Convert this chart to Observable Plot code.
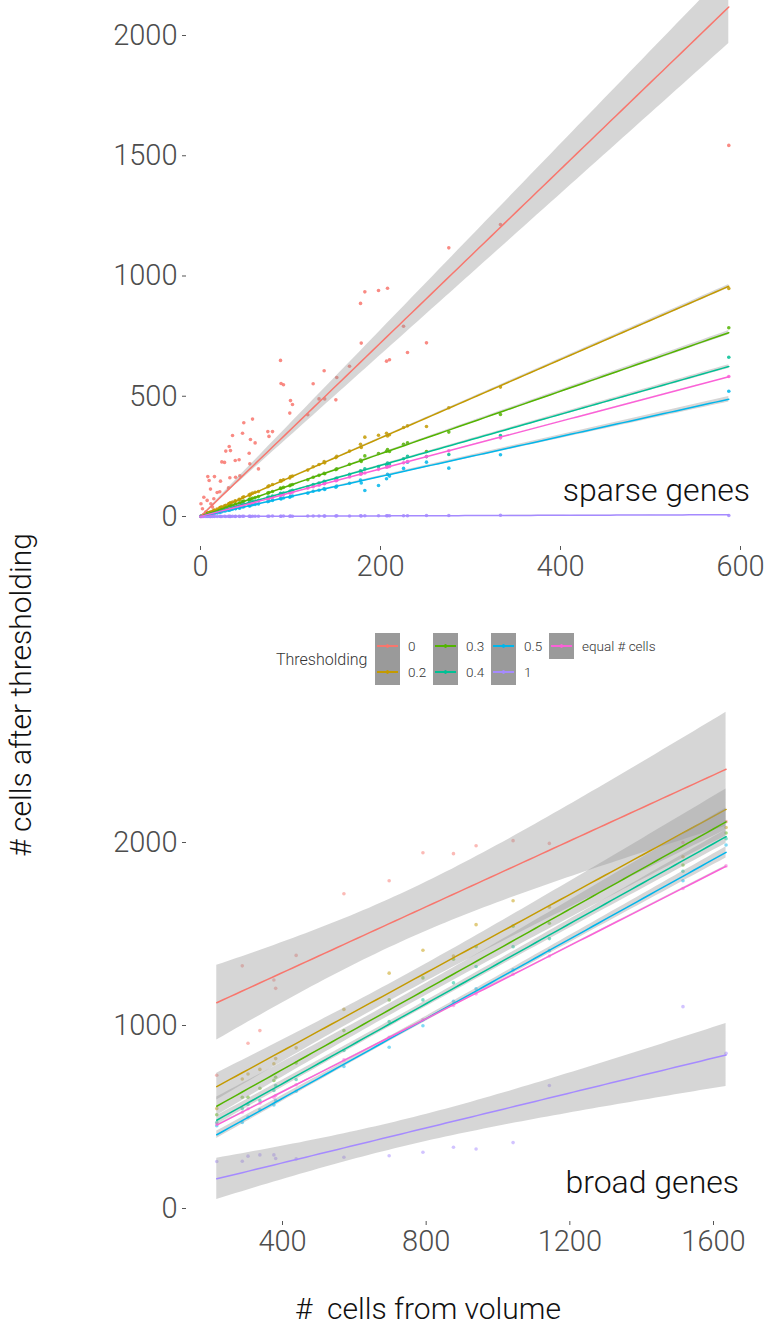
<!DOCTYPE html>
<html><head><meta charset="utf-8">
<script src="https://cdn.jsdelivr.net/npm/d3@7"></script>
<script src="https://cdn.jsdelivr.net/npm/@observablehq/plot@0.6"></script>
<style>
html,body{margin:0;padding:0;background:#fff;}
#page{position:relative;width:770px;height:1329px;overflow:hidden;font-family:Roboto,"Liberation Sans",sans-serif;font-weight:300;color:#111;}
.abs{position:absolute;white-space:pre;}
svg{overflow:visible;}
</style></head><body><div id="page"></div>
<script>
// ---- categories & colours ----
const levels = ["0", "0.2", "0.3", "0.4", "0.5", "1", "equal # cells"];
const colors = ["#F8766D", "#C49A00", "#53B400", "#00C094", "#00B6EB", "#A58AFF", "#FB61D7"];

// ---- sparse genes panel ----
const sparseX = [0.5, 2.2, 3.7, 5.9, 7.4, 8.1, 9.6, 11.1, 11.5, 13.3, 14.8, 15.5, 18.5, 21.4, 22.2, 23.7, 26.7, 28.1, 31.1, 31.9, 32.6, 33.3, 35.6, 38.6, 39.0, 42.9, 43.7, 46.7, 48.1, 54.1, 54.8, 55.5, 57.8, 60.7, 64.4, 74.8, 76.1, 80, 88.9, 89.5, 92.2, 99.2, 100, 102.2, 119.2, 125.2, 131.7, 137.4, 138, 150.4, 151.4, 165.6, 177.8, 178.6, 182.6, 197.8, 206.7, 207.8, 210, 225.6, 230, 251.1, 275.9, 333.3, 587];
const sparse0 = [53, 32, 80, 18, 67, 166, 150, 114, 53, 39, 74, 166, 100, 103, 147, 227, 225, 272, 119, 291, 161, 274, 337, 233, 163, 236, 169, 346, 390, 263, 219, 320, 405, 306, 198, 353, 333, 353, 649, 553, 548, 430, 482, 466, 423, 552, 489, 606, 489, 485, 578, 625, 886, 721, 934, 940, 646, 949, 652, 791, 682, 722, 1117, 1214, 1543];
const sparse02 = [1, 4, 7, 9, 13, 15, 16, 19, 17, 22, 25, 27, 31, 36, 38, 40, 45, 47, 52, 54, 55, 57, 60, 65, 63, 72, 70, 79, 82, 90, 88, 93, 97, 101, 104, 124, 128, 133, 150, 147, 153, 160, 166, 168, 193, 207, 216, 228, 223, 245, 250, 272, 300, 287, 330, 338, 346, 335, 340, 370, 377, 374, 452, 538, 948];
const sparse03 = [1, 3, 5, 7, 10, 11, 13, 15, 14, 17, 19, 21, 24, 28, 30, 31, 35, 37, 40, 42, 43, 44, 47, 51, 50, 56, 55, 62, 64, 71, 70, 73, 76, 79, 83, 97, 100, 104, 118, 116, 121, 128, 131, 133, 153, 163, 171, 180, 178, 195, 198, 217, 235, 229, 252, 262, 271, 278, 270, 300, 306, 270, 351, 424, 785];
const sparse04 = [1, 2, 4, 6, 8, 9, 10, 12, 11, 14, 16, 17, 20, 23, 24, 25, 28, 30, 33, 34, 35, 36, 38, 41, 40, 46, 45, 50, 52, 58, 57, 59, 62, 64, 67, 80, 81, 85, 96, 94, 98, 104, 106, 109, 124, 133, 139, 146, 144, 157, 160, 175, 190, 183, 198, 208, 215, 222, 218, 240, 250, 249, 258, 337, 662];
const sparse05 = [0, 2, 3, 5, 6, 7, 8, 9, 9, 11, 12, 13, 15, 18, 19, 20, 23, 24, 26, 27, 28, 28, 30, 33, 32, 36, 35, 40, 41, 45, 44, 47, 49, 50, 52, 62, 64, 67, 75, 73, 77, 80, 84, 85, 97, 105, 109, 116, 112, 122, 127, 138, 152, 139, 108, 129, 157, 175, 168, 200, 226, 226, 201, 257, 521];
const sparse1 = [0, 0, 0, 0, 0, 1, 0, 0, 0, 0, 1, 0, 0, 1, 0, 0, 1, 0, 1, 0, 1, 0, 1, 0, 1, 1, 0, 1, 1, 1, 1, 0, 1, 1, 1, 1, 1, 2, 1, 1, 2, 1, 2, 1, 2, 2, 2, 2, 2, 2, 3, 2, 3, 2, 3, 3, 3, 3, 3, 3, 3, 4, 4, 5, 4];
const sparseEq = [0, 2, 4, 6, 7, 8, 10, 11, 11, 13, 15, 15, 18, 21, 22, 23, 26, 28, 31, 32, 32, 33, 35, 38, 39, 43, 43, 46, 48, 54, 54, 55, 57, 60, 64, 74, 75, 79, 88, 89, 91, 98, 99, 101, 118, 124, 130, 136, 137, 149, 150, 164, 176, 177, 181, 196, 205, 206, 208, 223, 228, 249, 273, 327, 582];

// ---- broad genes panel ----
const broadX = [217, 288, 304, 337, 376, 381, 438, 571, 697, 791, 876, 939, 1042, 1143, 1515, 1635];
const broad0 = [728, 1326, 903, 972, 1249, 1203, 1383, 1720, 1791, 1944, 1939, 1982, 2010, 1995, 2000, 2114];
const broad02 = [546, 708, 735, 760, 791, 819, 878, 1088, 1286, 1411, 1380, 1551, 1682, 1646, 1922, 2082];
const broad03 = [512, 608, 608, 657, 700, 717, 795, 972, 1140, 1260, 1362, 1431, 1543, 1559, 1877, 2052];
const broad04 = [470, 546, 568, 590, 645, 672, 705, 863, 1021, 1140, 1233, 1322, 1431, 1475, 1843, 2021];
const broad05 = [452, 470, 500, 540, 566, 590, 641, 776, 881, 999, 1132, 1200, 1304, 1409, 1791, 1986];
const broad1 = [257, 258, 286, 293, 293, 273, 271, 280, 288, 307, 335, 325, 360, 672, 1103, 848];
const broadEq = [462, 526, 545, 575, 607, 617, 676, 812, 936, 1031, 1109, 1173, 1280, 1380, 1749, 1872];

// ---- axis ticks & texts ----
const sparseXTicks = [0, 200, 400, 600];
const sparseYTicks = [0, 500, 1000, 1500, 2000];
const broadXTicks = [400, 800, 1200, 1600];
const broadYTicks = [0, 1000, 2000];
const legendTitle = "Thresholding";
const xTitle = "#  cells from volume";
const yTitle = "# cells after thresholding";
const sparseLabel = "sparse genes";
const broadLabel = "broad genes";

// ---- linear model smooth (like geom_smooth(method = "lm")) ----
function t975(df) {
  const z = 1.959964, z3 = z ** 3, z5 = z ** 5, z7 = z ** 7;
  return z + (z3 + z) / (4 * df) + (5 * z5 + 16 * z3 + 3 * z) / (96 * df * df) +
    (3 * z7 + 19 * z5 + 17 * z3 - 15 * z) / (384 * df ** 3);
}
// origin = true fits y ~ 0 + x, otherwise y ~ x
function smooth(xs, ys, origin, steps = 80) {
  const n = xs.length;
  let a, b, s, t, se;
  if (origin) {
    let sxx = 0, sxy = 0;
    for (let i = 0; i < n; i++) { sxx += xs[i] ** 2; sxy += xs[i] * ys[i]; }
    b = sxy / sxx; a = 0;
    let sse = 0;
    for (let i = 0; i < n; i++) sse += (ys[i] - b * xs[i]) ** 2;
    s = Math.sqrt(sse / (n - 1)); t = t975(n - 1);
    se = x => s * Math.abs(x) / Math.sqrt(sxx);
  } else {
    const xbar = d3.mean(xs), ybar = d3.mean(ys);
    let sxx = 0, sxy = 0;
    for (let i = 0; i < n; i++) { sxx += (xs[i] - xbar) ** 2; sxy += (xs[i] - xbar) * (ys[i] - ybar); }
    b = sxy / sxx; a = ybar - b * xbar;
    let sse = 0;
    for (let i = 0; i < n; i++) sse += (ys[i] - a - b * xs[i]) ** 2;
    s = Math.sqrt(sse / (n - 2)); t = t975(n - 2);
    se = x => s * Math.sqrt(1 / n + (x - xbar) ** 2 / sxx);
  }
  const [x0, x1] = d3.extent(xs);
  return d3.range(steps + 1).map(k => {
    const x = x0 + (x1 - x0) * k / steps, f = a + b * x;
    return {x, fit: f, lo: f - t * se(x), hi: f + t * se(x)};
  });
}

const fontStack = 'Roboto, "Liberation Sans", sans-serif';

function panel({xs, series, origin, xDomain, xRange, xTicks, yTicks, yRange, height, marginBottom, dotOpacity}) {
  const pts = series.flatMap((ys, i) => ys.map((y, j) => ({x: xs[j], y, level: levels[i]})));
  const marks = [Plot.dot(pts, {x: "x", y: "y", fill: "level", r: 1.8, fillOpacity: dotOpacity})];
  series.forEach((ys, i) => {
    const sm = smooth(xs, ys, origin);
    marks.push(
      Plot.areaY(sm, {x: "x", y1: "lo", y2: "hi", fill: "#999999", fillOpacity: 0.4}),
      Plot.line(sm, {x: "x", y: "fit", stroke: colors[i], strokeWidth: 1.5})
    );
  });
  marks.push(
    Plot.axisY({ticks: yTicks, tickSize: 4, tickPadding: 5, tickFormat: d3.format("d"), label: null, stroke: "#555"}),
    Plot.axisX({ticks: xTicks, tickSize: 4, tickPadding: 5, tickFormat: d3.format("d"), label: null, stroke: "#555"})
  );
  return Plot.plot({
    width: 770, height, marginLeft: 186, marginRight: 10, marginTop: 0, marginBottom,
    x: {domain: xDomain, range: xRange},
    y: {domain: [0, 2000], range: yRange},
    color: {domain: levels, range: colors},
    marks,
    style: {fontFamily: fontStack, fontSize: "29px", fontWeight: 300, color: "#4d4d4d", background: "transparent", overflow: "visible"}
  });
}

const page = document.getElementById("page");
function place(el, y) { el.style.position = "absolute"; el.style.left = "0px"; el.style.top = y + "px"; page.appendChild(el); }

const sparsePlot = panel({
  xs: sparseX, series: [sparse0, sparse02, sparse03, sparse04, sparse05, sparse1, sparseEq], origin: true,
  xDomain: [0, 600], xRange: [200, 740], xTicks: sparseXTicks, yTicks: sparseYTicks,
  yRange: [516, 35], height: 600, marginBottom: 54, dotOpacity: 0.85
});
place(sparsePlot, 0);

const broadTop = 695;
const broadPlot = panel({
  xs: broadX, series: [broad0, broad02, broad03, broad04, broad05, broad1, broadEq], origin: false,
  xDomain: [400, 1600], xRange: [282, 713], xTicks: broadXTicks, yTicks: broadYTicks,
  yRange: [1208 - broadTop, 842 - broadTop], height: 1329 - broadTop, marginBottom: 1329 - 1221, dotOpacity: 0.5
});
place(broadPlot, broadTop);

function text(str, style) {
  const d = document.createElement("div");
  d.className = "abs";
  d.textContent = str;
  Object.assign(d.style, style);
  page.appendChild(d);
  return d;
}
text(sparseLabel, {right: "20px", top: "471px", fontSize: "32px", lineHeight: "38px", color: "#111"});
text(broadLabel, {right: "31px", top: "1163px", fontSize: "32px", lineHeight: "38px", color: "#111"});
text(xTitle, {left: "0px", width: "856px", textAlign: "center", top: "1291px", fontSize: "30px", lineHeight: "36px", color: "#111"});
text(yTitle, {left: "21px", top: "695px", fontSize: "30px", lineHeight: "36px", color: "#111", transform: "translate(-50%,-50%) rotate(-90deg)"});

// ---- legend ----
text(legendTitle, {left: "276px", top: "650px", fontSize: "16px", lineHeight: "20px", color: "#333"});
const colX = [375, 433, 491, 549];
levels.forEach((lv, i) => {
  const col = Math.floor(i / 2), row = i % 2;
  const kx = colX[col], ky = 633 + row * 26;
  const box = document.createElement("div");
  Object.assign(box.style, {position: "absolute", left: kx + "px", top: ky + "px", width: "25px", height: "26px", background: "#9a9a9a"});
  page.appendChild(box);
  const ln = document.createElement("div");
  Object.assign(ln.style, {position: "absolute", left: (kx + 2) + "px", top: (ky + 12) + "px", width: "21px", height: "2px", background: colors[i]});
  page.appendChild(ln);
  const dt = document.createElement("div");
  Object.assign(dt.style, {position: "absolute", left: (kx + 11) + "px", top: (ky + 11) + "px", width: "3px", height: "4px", borderRadius: "50%", background: colors[i]});
  page.appendChild(dt);
  text(lv, {left: (kx + 33) + "px", top: (ky + 4) + "px", fontSize: "13.5px", lineHeight: "18px", color: "#333"});
});
</script></body></html>
